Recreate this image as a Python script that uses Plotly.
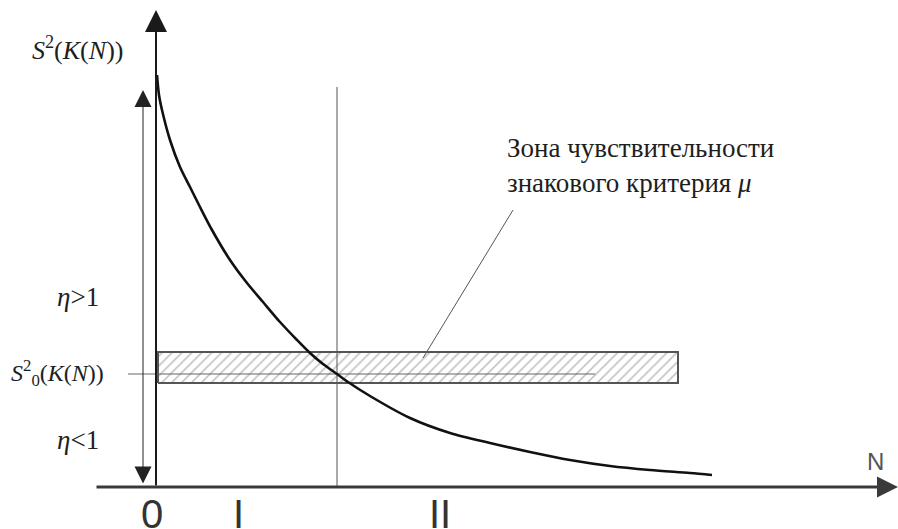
import plotly.graph_objects as go

# кривая S^2(K(N)) (усл. единицы)
N_VALUES = [0.01, 0.03, 0.06, 0.14, 0.24, 0.34, 0.44, 0.56, 0.74, 0.91,
            1.07, 1.24, 1.41, 1.54, 1.67, 1.81, 1.92, 2.14, 2.54, 2.94,
            3.34, 3.74, 4.14, 4.54, 4.94, 5.34, 5.56]
S2_VALUES = [4.12, 3.92, 3.77, 3.47, 3.20, 3.00, 2.80, 2.57, 2.27, 2.04,
             1.85, 1.65, 1.47, 1.34, 1.23, 1.13, 1.05, 0.91, 0.69, 0.54,
             0.44, 0.35, 0.27, 0.21, 0.17, 0.14, 0.12]

S2_ZERO = 1.13            # уровень S^2_0(K(N))
N_BOUNDARY = 1.81         # граница зон I / II
ZONE_S2 = [1.04, 1.35]    # зона чувствительности (по S^2)
ZONE_N = [0.02, 5.22]     # зона чувствительности (по N)
ZONE_INNER_N = [-0.28, 4.39]

ZONE_LABELS = ["0", "I", "II"]
ZONE_LABEL_N = [-0.04, 0.82, 2.84]

SERIF = "Liberation Serif, Times New Roman, serif"
SANS = "Liberation Sans, Arial, sans-serif"
TXT = "#1e1e1e"

fig = go.Figure()

# штриховая зона чувствительности
fig.add_trace(go.Scatter(
    x=[ZONE_N[0], ZONE_N[1], ZONE_N[1], ZONE_N[0], ZONE_N[0]],
    y=[ZONE_S2[0], ZONE_S2[0], ZONE_S2[1], ZONE_S2[1], ZONE_S2[0]],
    mode="lines", fill="toself", fillcolor="white",
    fillpattern=dict(shape="/", fgcolor="#7a7a7a", bgcolor="white", size=7, solidity=0.22),
    line=dict(color="#555", width=2), hoverinfo="skip"))

# линия уровня S^2_0 (с засечкой слева)
fig.add_trace(go.Scatter(x=ZONE_INNER_N, y=[S2_ZERO, S2_ZERO], mode="lines",
                         line=dict(color="#666", width=1.2), hoverinfo="skip"))

# вертикальная граница зон
fig.add_trace(go.Scatter(x=[N_BOUNDARY, N_BOUNDARY], y=[0, 4.0], mode="lines",
                         line=dict(color="#555", width=1), hoverinfo="skip"))

# выноска к подписи
fig.add_trace(go.Scatter(x=[2.67, 3.57], y=[1.29, 2.77], mode="lines",
                         line=dict(color="#555", width=1), hoverinfo="skip"))

# кривая
fig.add_trace(go.Scatter(x=N_VALUES, y=S2_VALUES, mode="lines", line_shape="spline",
                         line=dict(color="#111", width=2.6, smoothing=0.8), hoverinfo="skip"))

# ось ординат
fig.add_annotation(x=0, y=4.77, ax=0, ay=0, xref="x", yref="y", axref="x", ayref="y",
                   text="", showarrow=True, arrowhead=2, arrowsize=2.2, arrowwidth=2,
                   arrowcolor="#1a1a1a")
# ось абсцисс
fig.add_annotation(x=7.42, y=0, ax=-0.61, ay=0, xref="x", yref="y", axref="x", ayref="y",
                   text="", showarrow=True, arrowhead=2, arrowsize=1.4, arrowwidth=3,
                   arrowcolor="#3a3a3a")
# двунаправленная стрелка η
fig.add_annotation(x=-0.13, y=3.97, ax=-0.13, ay=0.02, xref="x", yref="y", axref="x", ayref="y",
                   text="", showarrow=True, arrowhead=2, startarrowhead=2, arrowside="end+start",
                   arrowsize=3.4, startarrowsize=3.4, arrowwidth=1, arrowcolor="#222")


def label(x, y, text, size=25, family=SERIF, xanchor="left", yanchor="middle", color=TXT):
    fig.add_annotation(x=x, y=y, xref="x", yref="y", text=text, showarrow=False,
                       xanchor=xanchor, yanchor=yanchor,
                       font=dict(family=family, size=size, color=color))


label(-1.26, 4.39, "<i>S</i><sup>2</sup>(<i>K</i>(<i>N</i>))", size=26)
label(-1.01, 1.90, "<i>η</i>>1", size=27)
label(-1.47, 1.14, "<i>S</i><sup>2</sup><sub>0</sub>(<i>K</i>(<i>N</i>))", size=24)
label(-1.01, 0.47, "<i>η</i><1", size=27)
label(3.49, 3.39, "Зона чувствительности", size=27)
label(3.49, 3.04, "знакового критерия <i>μ</i>", size=27)

for n, t in zip(ZONE_LABEL_N, ZONE_LABELS):
    label(n, -0.03, t, size=40, family=SANS, xanchor="center", yanchor="top", color="#333")
label(7.19, 0.26, "N", size=24, family=SANS, xanchor="center", color="#555")

fig.update_layout(
    width=898, height=529, margin=dict(l=0, r=0, t=0, b=0),
    paper_bgcolor="white", plot_bgcolor="white", showlegend=False,
    xaxis=dict(range=[-1.56, 7.42], visible=False, fixedrange=True),
    yaxis=dict(range=[-0.42, 4.87], visible=False, fixedrange=True),
)

fig.write_html("out.html", config={"displayModeBar": False},
               post_script="document.body.style.margin='0';")
